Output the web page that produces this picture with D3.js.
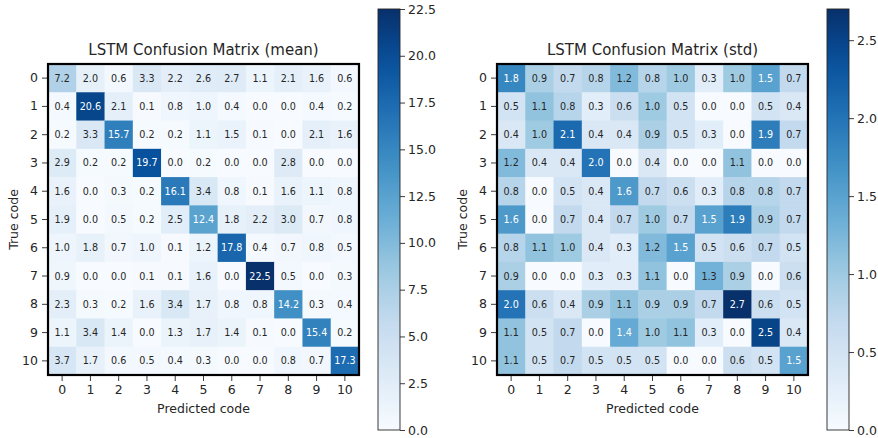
<!DOCTYPE html>
<html>
<head>
<meta charset="utf-8">
<script src="https://cdn.jsdelivr.net/npm/d3@7"></script>
<style>
  body { margin: 0; background: #fff; }
  svg { font-family: "DejaVu Sans", sans-serif; }
</style>
</head>
<body>
<div id="chart"></div>
<script>
// codes 0..10 used for both axes
var codes = [0, 1, 2, 3, 4, 5, 6, 7, 8, 9, 10];

// mean confusion matrix, rows = true code, columns = predicted code
var meanValues = [
    [7.2, 2.0, 0.6, 3.3, 2.2, 2.6, 2.7, 1.1, 2.1, 1.6, 0.6],
    [0.4, 20.6, 2.1, 0.1, 0.8, 1.0, 0.4, 0.0, 0.0, 0.4, 0.2],
    [0.2, 3.3, 15.7, 0.2, 0.2, 1.1, 1.5, 0.1, 0.0, 2.1, 1.6],
    [2.9, 0.2, 0.2, 19.7, 0.0, 0.2, 0.0, 0.0, 2.8, 0.0, 0.0],
    [1.6, 0.0, 0.3, 0.2, 16.1, 3.4, 0.8, 0.1, 1.6, 1.1, 0.8],
    [1.9, 0.0, 0.5, 0.2, 2.5, 12.4, 1.8, 2.2, 3.0, 0.7, 0.8],
    [1.0, 1.8, 0.7, 1.0, 0.1, 1.2, 17.8, 0.4, 0.7, 0.8, 0.5],
    [0.9, 0.0, 0.0, 0.1, 0.1, 1.6, 0.0, 22.5, 0.5, 0.0, 0.3],
    [2.3, 0.3, 0.2, 1.6, 3.4, 1.7, 0.8, 0.8, 14.2, 0.3, 0.4],
    [1.1, 3.4, 1.4, 0.0, 1.3, 1.7, 1.4, 0.1, 0.0, 15.4, 0.2],
    [3.7, 1.7, 0.6, 0.5, 0.4, 0.3, 0.0, 0.0, 0.8, 0.7, 17.3]
];

// std confusion matrix
var stdValues = [
    [1.8, 0.9, 0.7, 0.8, 1.2, 0.8, 1.0, 0.3, 1.0, 1.5, 0.7],
    [0.5, 1.1, 0.8, 0.3, 0.6, 1.0, 0.5, 0.0, 0.0, 0.5, 0.4],
    [0.4, 1.0, 2.1, 0.4, 0.4, 0.9, 0.5, 0.3, 0.0, 1.9, 0.7],
    [1.2, 0.4, 0.4, 2.0, 0.0, 0.4, 0.0, 0.0, 1.1, 0.0, 0.0],
    [0.8, 0.0, 0.5, 0.4, 1.6, 0.7, 0.6, 0.3, 0.8, 0.8, 0.7],
    [1.6, 0.0, 0.7, 0.4, 0.7, 1.0, 0.7, 1.5, 1.9, 0.9, 0.7],
    [0.8, 1.1, 1.0, 0.4, 0.3, 1.2, 1.5, 0.5, 0.6, 0.7, 0.5],
    [0.9, 0.0, 0.0, 0.3, 0.3, 1.1, 0.0, 1.3, 0.9, 0.0, 0.6],
    [2.0, 0.6, 0.4, 0.9, 1.1, 0.9, 0.9, 0.7, 2.7, 0.6, 0.5],
    [1.1, 0.5, 0.7, 0.0, 1.4, 1.0, 1.1, 0.3, 0.0, 2.5, 0.4],
    [1.1, 0.5, 0.7, 0.5, 0.5, 0.5, 0.0, 0.0, 0.6, 0.5, 1.5]
];

var meanTicks = [0, 2.5, 5, 7.5, 10, 12.5, 15, 17.5, 20, 22.5];
var stdTicks = [0, 0.5, 1.0, 1.5, 2.0, 2.5];

// matplotlib "Blues" anchor colours
var bluesStops = ["#f7fbff", "#deebf7", "#c6dbef", "#9ecae1", "#6baed6",
                  "#4292c6", "#2171b5", "#08519c", "#08306b"];

var W = 878, H = 438;
var svg = d3.select('#chart').append('svg').attr('width', W).attr('height', H);

var defs = svg.append('defs');

function blues(vmax) {
    return d3.scaleLinear()
        .domain(d3.range(bluesStops.length).map(function (i) { return vmax * i / (bluesStops.length - 1); }))
        .range(bluesStops)
        .clamp(true);
}

function styleAxis(a) {
    a.select('.domain').remove();
    a.selectAll('line').attr('stroke', '#262626').attr('stroke-width', 0.9);
    a.selectAll('text').attr('font-size', '12.5px').attr('fill', '#262626')
        .style('font-family', '"DejaVu Sans", sans-serif');
}

function drawPanel(opts) {
    var size = 311,
        left = opts.left, top = 64;
    var color = blues(opts.vmax);

    var x = d3.scaleBand().domain(codes).range([0, size]);
    var y = d3.scaleBand().domain(codes).range([0, size]);

    var g = svg.append('g').attr('transform', 'translate(' + left + ',' + top + ')');

    var cells = [];
    opts.values.forEach(function (row, i) {
        row.forEach(function (v, j) { cells.push({ r: codes[i], c: codes[j], v: v }); });
    });

    g.selectAll('rect.cell')
        .data(cells)
        .enter().append('rect')
        .attr('class', 'cell')
        .attr('x', function (d) { return x(d.c); })
        .attr('y', function (d) { return y(d.r); })
        .attr('width', x.bandwidth() + 0.5)
        .attr('height', y.bandwidth() + 0.5)
        .attr('fill', function (d) { return color(d.v); });

    g.selectAll('text.val')
        .data(cells)
        .enter().append('text')
        .attr('class', 'val')
        .attr('x', function (d) { return x(d.c) + x.bandwidth() / 2; })
        .attr('y', function (d) { return y(d.r) + y.bandwidth() / 2; })
        .attr('text-anchor', 'middle')
        .attr('dy', '0.36em')
        .attr('font-size', '9.6px')
        .attr('fill', function (d) { return d.v > opts.vmax / 2 ? '#fff' : '#262626'; })
        .text(function (d) { return d.v.toFixed(1); });

    // frame
    g.append('rect')
        .attr('width', size).attr('height', size)
        .attr('fill', 'none').attr('stroke', '#000').attr('stroke-width', 2.2);

    var xAxis = g.append('g')
        .attr('transform', 'translate(0,' + (size + 1) + ')')
        .call(d3.axisBottom(x).tickSize(5).tickPadding(4));
    var yAxis = g.append('g')
        .attr('transform', 'translate(-1,0)')
        .call(d3.axisLeft(y).tickSize(5).tickPadding(4));
    styleAxis(xAxis);
    styleAxis(yAxis);

    g.append('text')
        .attr('x', size / 2).attr('y', -9)
        .attr('text-anchor', 'middle')
        .attr('font-size', '15px')
        .attr('fill', '#262626')
        .text(opts.title);

    g.append('text')
        .attr('x', size / 2).attr('y', size + 38)
        .attr('text-anchor', 'middle')
        .attr('font-size', '12.5px')
        .attr('fill', '#262626')
        .text('Predicted code');

    g.append('text')
        .attr('transform', 'translate(' + (-30) + ',' + (size / 2) + ') rotate(-90)')
        .attr('text-anchor', 'middle')
        .attr('font-size', '12.5px')
        .attr('fill', '#262626')
        .text('True code');

    // colorbar
    var cbTop = 9, cbBottom = 430, cbW = 22;
    var cy = d3.scaleLinear().domain([0, opts.vmax]).range([cbBottom, cbTop]);
    var gradId = 'grad' + opts.id;
    var grad = defs.append('linearGradient')
        .attr('id', gradId)
        .attr('x1', 0).attr('y1', 1).attr('x2', 0).attr('y2', 0);
    d3.range(0, 1.0001, 0.05).forEach(function (t) {
        grad.append('stop').attr('offset', t).attr('stop-color', color(t * opts.vmax));
    });

    var cb = svg.append('g').attr('transform', 'translate(' + opts.cbLeft + ',0)');
    cb.append('rect')
        .attr('x', 0).attr('y', cbTop)
        .attr('width', cbW).attr('height', cbBottom - cbTop)
        .attr('fill', 'url(#' + gradId + ')')
        .attr('stroke', '#262626').attr('stroke-width', 0.9);
    var cbAxis = cb.append('g')
        .attr('transform', 'translate(' + cbW + ',0)')
        .call(d3.axisRight(cy).tickValues(opts.ticks).tickFormat(d3.format('.1f')).tickSize(5).tickPadding(3));
    styleAxis(cbAxis);
}

drawPanel({ id: 'mean', values: meanValues, vmax: 22.5, ticks: meanTicks,
            title: 'LSTM Confusion Matrix (mean)', left: 48, cbLeft: 378 });
drawPanel({ id: 'std', values: stdValues, vmax: 2.7, ticks: stdTicks,
            title: 'LSTM Confusion Matrix (std)', left: 497, cbLeft: 827 });
</script>
</body>
</html>
